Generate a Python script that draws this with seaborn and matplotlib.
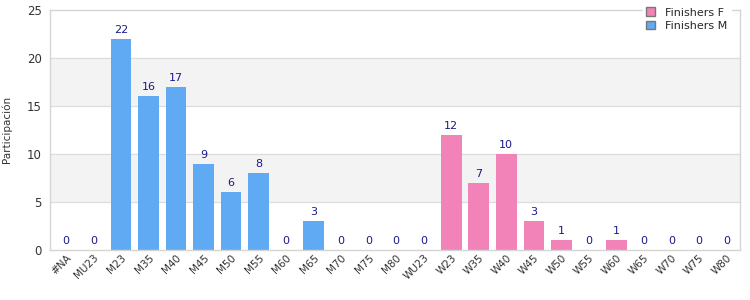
import pandas as pd
import numpy as np
import matplotlib
matplotlib.use('Agg')
import matplotlib.pyplot as plt
import seaborn as sns
from matplotlib.patches import Patch

# categorias e valores
categorias = ['#NA', 'MU23', 'M23', 'M35', 'M40', 'M45', 'M50', 'M55', 'M60', 'M65',
              'M70', 'M75', 'M80', 'WU23', 'W23', 'W35', 'W40', 'W45', 'W50', 'W55',
              'W60', 'W65', 'W70', 'W75', 'W80']
valores = [0, 0, 22, 16, 17, 9, 6, 8, 0, 3, 0, 0, 0, 0, 12, 7, 10, 3, 1, 0, 1, 0, 0, 0, 0]
grupo = ['Finishers M'] * 14 + ['Finishers F'] * 11

cor_m = '#60a9f3'
cor_f = '#f283b8'

df = pd.DataFrame({'cat': categorias, 'valor': valores, 'grupo': grupo})

sns.set_style('white')
fig, ax = plt.subplots(figsize=(7.5, 3), dpi=100)
fig.subplots_adjust(left=0.067, right=0.987, top=0.967, bottom=0.167)

# faixas alternadas
for y0 in [5, 15]:
    ax.axhspan(y0, y0 + 5, color='#f3f3f3', zorder=0)
for y in [5, 10, 15, 20]:
    ax.axhline(y, color='#dcdcdc', lw=0.8, zorder=0.5)

sns.barplot(data=df, x='cat', y='valor', hue='grupo', dodge=False,
            palette={'Finishers M': cor_m, 'Finishers F': cor_f},
            saturation=1, linewidth=0,
            width=0.75, order=categorias, ax=ax, legend=False, zorder=2)

for i, v in enumerate(valores):
    ax.text(i, v + 0.4, str(v), ha='center', va='bottom', fontsize=8, color='#1a1a8a')

ax.set_xlim(-0.57, len(categorias) - 0.5)
ax.set_ylim(0, 25)
ax.set_yticks([0, 5, 10, 15, 20, 25])
ax.tick_params(axis='y', labelsize=8.5, labelcolor='#333333', length=0, pad=6)
ax.tick_params(axis='x', labelsize=7.5, labelcolor='#333333', length=0, pad=2)
plt.setp(ax.get_xticklabels(), rotation=45, ha='right', rotation_mode='anchor')
ax.set_xlabel('')
ax.set_ylabel('Participación', fontsize=7.5, color='#333333')
ax.yaxis.set_label_coords(-0.056, 0.5)

for s in ax.spines.values():
    s.set_color('#d5d5d5')
    s.set_linewidth(1)

handles = [Patch(facecolor=cor_f, edgecolor='#777777', label='Finishers F'),
           Patch(facecolor=cor_m, edgecolor='#777777', label='Finishers M')]
leg = fig.legend(handles=handles, loc='upper right', bbox_to_anchor=(0.982, 1.005),
                 fontsize=8, frameon=True, fancybox=False, edgecolor='white',
                 handlelength=0.8, handleheight=0.8, handletextpad=0.9,
                 labelspacing=0.3, borderpad=0.3)
leg.get_frame().set_alpha(1)

plt.savefig('out.png', dpi=100)
